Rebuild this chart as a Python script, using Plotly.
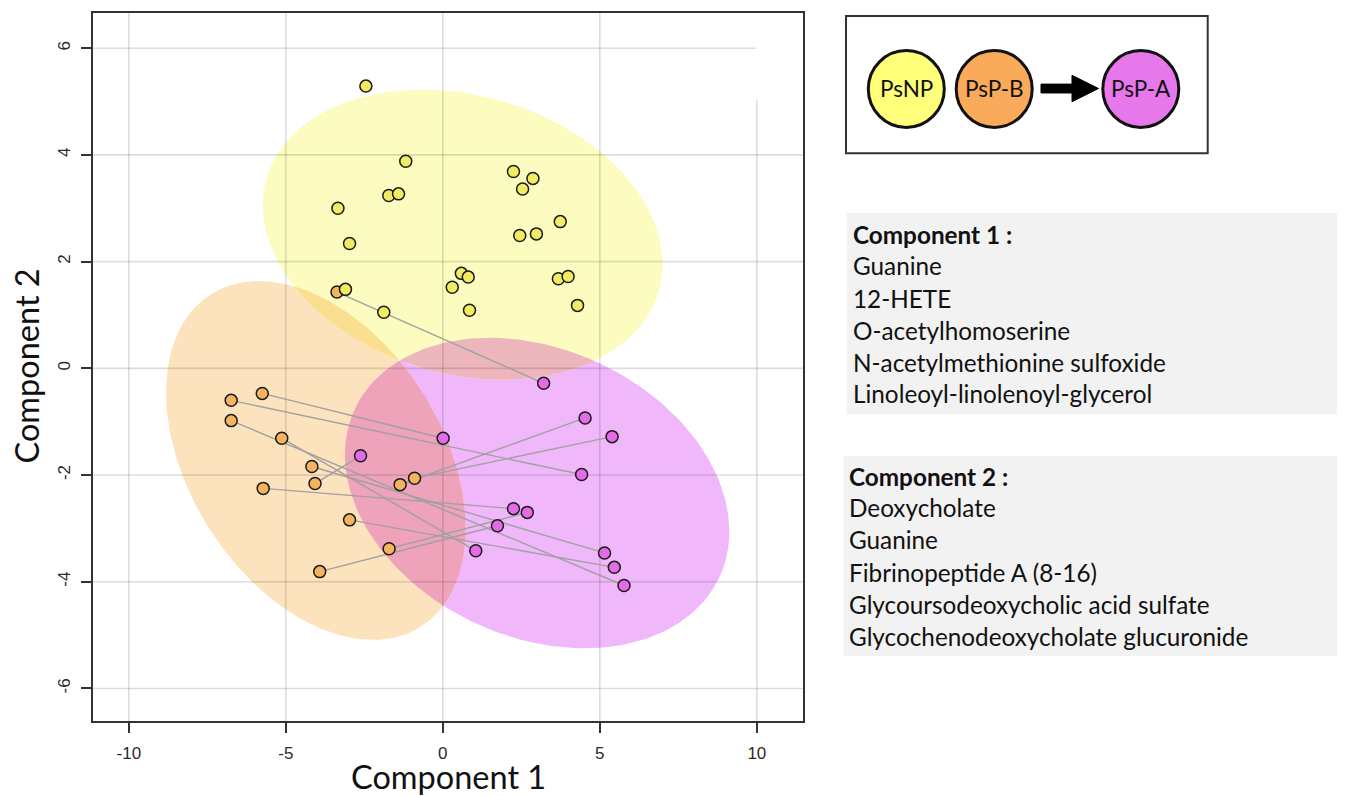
import numpy as np
import plotly.graph_objects as go

# ---------------- data ----------------
psnp_x = [-2.45, -1.18, -1.72, -1.41, -3.34, -2.97, -3.10, -1.88, 2.25, 2.87, 2.54,
          3.74, 2.45, 2.98, 0.59, 0.81, 0.30, 0.85, 3.68, 3.99, 4.29]
psnp_y = [5.29, 3.88, 3.24, 3.27, 3.00, 2.34, 1.48, 1.05, 3.69, 3.56, 3.36,
          2.75, 2.49, 2.52, 1.78, 1.71, 1.52, 1.09, 1.68, 1.72, 1.18]

# PsP-B samples (paired, same order as PsP-A)
pspb_x = [-5.75, -6.74, -6.74, -5.13, -4.17, -4.07, -5.72, -2.97, -1.71, -3.92, -1.36, -0.90, -3.37]
pspb_y = [-0.47, -0.60, -0.98, -1.31, -1.84, -2.16, -2.25, -2.84, -3.38, -3.81, -2.18, -2.06, 1.43]
# PsP-A samples
pspa_x = [0.01, 4.42, 5.77, 1.05, 5.15, -2.62, 2.25, 5.46, 2.69, 1.74, 4.53, 5.39, 3.21]
pspa_y = [-1.31, -1.99, -4.07, -3.42, -3.46, -1.64, -2.63, -3.73, -2.70, -2.95, -0.93, -1.28, -0.28]

x_tickvals = [-10, -5, 0, 5, 10]
x_ticktext = ["-10", "-5", "0", "5", "10"]
y_tickvals = [-6, -4, -2, 0, 2, 4, 6]
y_ticktext = ["-6", "-4", "-2", "0", "2", "4", "6"]

groups = ["PsNP", "PsP-B", "PsP-A"]
comp1_vars = ["Guanine", "12-HETE", "O-acetylhomoserine",
              "N-acetylmethionine sulfoxide", "Linoleoyl-linolenoyl-glycerol"]
comp2_vars = ["Deoxycholate", "Guanine", "Fibrinopeptide A (8-16)",
              "Glycoursodeoxycholic acid sulfate", "Glycochenodeoxycholate glucuronide"]

# ---------------- styles ----------------
pt_col = {"PsNP": "#F1EC62", "PsP-B": "#F4B35E", "PsP-A": "#E46BE6"}
# ellipse tints as seen over white; overlaps are shown multiplied
ell_rgb = {"PsNP": (252, 252, 193), "PsP-B": (253, 226, 190), "PsP-A": (240, 184, 250)}
leg_col = {"PsNP": "#FFFF7A", "PsP-B": "#F9AA5A", "PsP-A": "#E678EB"}
FONT = "Lato, 'Open Sans', sans-serif"
TICKFONT = "'Liberation Sans', Arial, sans-serif"
X_RANGE = [-11.14, 11.47]
Y_RANGE = [-6.61, 6.66]

CHI = 2.4477  # sqrt(qchisq(0.95, 2))


def conf_ellipse(x, y, n=240):
    x = np.asarray(x, float)
    y = np.asarray(y, float)
    cov = np.cov(x, y)
    vals, vecs = np.linalg.eigh(cov)
    t = np.linspace(0, 2 * np.pi, n, endpoint=False)
    circ = np.vstack([np.cos(t), np.sin(t)])
    pts = vecs @ (np.sqrt(vals)[:, None] * circ) * CHI
    poly = list(zip(x.mean() + pts[0], y.mean() + pts[1]))
    area = sum(p[0] * q[1] - q[0] * p[1] for p, q in zip(poly, poly[1:] + poly[:1]))
    if area < 0:
        poly = poly[::-1]
    return poly


def clip(subject, clipper):
    """Sutherland-Hodgman: intersection of polygon with convex CCW polygon."""
    out = list(subject)
    n = len(clipper)
    for i in range(n):
        if not out:
            break
        a = clipper[i]
        b = clipper[(i + 1) % n]

        def inside(p):
            return (b[0] - a[0]) * (p[1] - a[1]) - (b[1] - a[1]) * (p[0] - a[0]) >= 0

        def inter(p, q):
            x1, y1 = p
            x2, y2 = q
            x3, y3 = a
            x4, y4 = b
            den = (x1 - x2) * (y3 - y4) - (y1 - y2) * (x3 - x4)
            t = ((x1 - x3) * (y3 - y4) - (y1 - y3) * (x3 - x4)) / den
            return (x1 + t * (x2 - x1), y1 + t * (y2 - y1))

        inp = out
        out = []
        s = inp[-1]
        for e in inp:
            if inside(e):
                if not inside(s):
                    out.append(inter(s, e))
                out.append(e)
            elif inside(s):
                out.append(inter(s, e))
            s = e
    return out


def mult(*cols):
    r = np.array([255.0, 255.0, 255.0])
    for c in cols:
        r = r * np.array(c) / 255.0
    return "rgb(%d,%d,%d)" % tuple(int(round(v)) for v in r)


fig = go.Figure()

ell = {"PsNP": conf_ellipse(psnp_x, psnp_y),
       "PsP-B": conf_ellipse(pspb_x, pspb_y),
       "PsP-A": conf_ellipse(pspa_x, pspa_y)}


def add_poly(poly, color):
    if len(poly) < 3:
        return
    xs = [p[0] for p in poly] + [poly[0][0]]
    ys = [p[1] for p in poly] + [poly[0][1]]
    fig.add_trace(go.Scatter(x=xs, y=ys, mode="lines", fill="toself", fillcolor=color,
                             line=dict(width=0), hoverinfo="skip", showlegend=False))


for g in ["PsP-A", "PsP-B", "PsNP"]:
    add_poly(ell[g], mult(ell_rgb[g]))
for g1, g2 in [("PsNP", "PsP-B"), ("PsNP", "PsP-A"), ("PsP-B", "PsP-A")]:
    add_poly(clip(ell[g1], ell[g2]), mult(ell_rgb[g1], ell_rgb[g2]))
add_poly(clip(clip(ell["PsNP"], ell["PsP-B"]), ell["PsP-A"]),
         mult(ell_rgb["PsNP"], ell_rgb["PsP-B"], ell_rgb["PsP-A"]))

# grid lines (drawn over the tinted ellipses, slightly interrupted in the top-right corner)
CORNER_X, CORNER_Y = 9.97, 5.03
gx, gy = [], []
for v in x_tickvals:
    top = CORNER_Y if v >= CORNER_X else Y_RANGE[1]
    gx += [v, v, None]
    gy += [Y_RANGE[0], top, None]
for v in y_tickvals:
    right = CORNER_X if v >= CORNER_Y else X_RANGE[1]
    gx += [X_RANGE[0], right, None]
    gy += [v, v, None]
fig.add_trace(go.Scatter(x=gx, y=gy, mode="lines", line=dict(color="rgba(0,0,0,0.135)", width=1.6),
                         hoverinfo="skip", showlegend=False))

# paired lines PsP-B -> PsP-A
lx, ly = [], []
for xb, yb, xa, ya in zip(pspb_x, pspb_y, pspa_x, pspa_y):
    lx += [xb, xa, None]
    ly += [yb, ya, None]
fig.add_trace(go.Scatter(x=lx, y=ly, mode="lines",
                         line=dict(color="#A0A0A0", width=1.4),
                         hoverinfo="skip", showlegend=False))

for g, xs, ys in [("PsP-B", pspb_x, pspb_y), ("PsNP", psnp_x, psnp_y), ("PsP-A", pspa_x, pspa_y)]:
    fig.add_trace(go.Scatter(x=xs, y=ys, mode="markers", name=g,
                             marker=dict(size=12, color=pt_col[g],
                                         line=dict(color="#1A1A1A", width=1.5)),
                             showlegend=False))

# ---------------- layout ----------------
# coordinates below are screen pixels of the reference; the page adds an 8px body margin
OFF = 8
L, R, T, B = 93, 803, 11, 721
W, H = R - L, B - T


def px(x):
    return (x - L) / W


def py(y):
    return (B - y) / H


axis_common = dict(showgrid=False, zeroline=False,
                   showline=True, mirror=True, linecolor="#333333", linewidth=1.5,
                   ticks="outside", ticklen=10, tickwidth=1.5, tickcolor="#333333",
                   tickfont=dict(family=TICKFONT, size=17, color="#2A2A2A"))

fig.update_xaxes(range=X_RANGE, tickvals=x_tickvals, ticktext=x_ticktext,
                 ticklabelstandoff=6, **axis_common)
fig.update_yaxes(range=Y_RANGE, tickvals=y_tickvals, ticktext=y_ticktext,
                 tickangle=-90, ticklabelstandoff=4, **axis_common)

shapes = []
# legend box
shapes.append(dict(type="rect", xref="paper", yref="paper", x0=px(846), x1=px(1207.7),
                   y0=py(151.7), y1=py(14), line=dict(color="#333333", width=2),
                   fillcolor="white"))
circ_cx = {"PsNP": 906.3, "PsP-B": 994.2, "PsP-A": 1140.8}
cy = 87.2
for g in groups:
    c = circ_cx[g]
    shapes.append(dict(type="circle", xref="paper", yref="paper",
                       x0=px(c - 38), x1=px(c + 38), y0=py(cy + 38.5), y1=py(cy - 38.5),
                       line=dict(color="#111111", width=3), fillcolor=leg_col[g]))
arrow_pts = [(1041, 82.3), (1072, 82.3), (1072, 73.5), (1098.5, 86.7),
             (1072, 100), (1072, 91.2), (1041, 91.2)]
path = "M " + " L ".join(f"{px(a):.5f},{py(b):.5f}" for a, b in arrow_pts) + " Z"
shapes.append(dict(type="path", xref="paper", yref="paper", path=path,
                   fillcolor="black", line=dict(color="black", width=1)))

# grey text boxes
shapes.append(dict(type="rect", xref="paper", yref="paper", x0=px(846.7), x1=px(1338),
                   y0=py(413.3), y1=py(211.7), fillcolor="#F2F2F2", line=dict(width=0)))
shapes.append(dict(type="rect", xref="paper", yref="paper", x0=px(843.3), x1=px(1338),
                   y0=py(656), y1=py(455), fillcolor="#F2F2F2", line=dict(width=0)))

annotations = []
for g in groups:
    annotations.append(dict(text=g, x=px(circ_cx[g]), y=py(cy), xref="paper", yref="paper",
                            showarrow=False, xanchor="center", yanchor="middle",
                            font=dict(family=FONT, size=22.5, color="#111111")))

box1_y = [233, 264, 297, 329, 361, 393]
for txt, yy in zip(["<b>Component 1 :</b>"] + comp1_vars, box1_y):
    annotations.append(dict(text=txt, x=px(851), y=py(yy), xref="paper", yref="paper",
                            showarrow=False, xanchor="left", yanchor="middle",
                            font=dict(family=FONT, size=24.3, color="#111111")))
box2_y = [476, 507.3, 539, 572, 604.3, 636.7]
for txt, yy in zip(["<b>Component 2 :</b>"] + comp2_vars, box2_y):
    annotations.append(dict(text=txt, x=px(847.3), y=py(yy), xref="paper", yref="paper",
                            showarrow=False, xanchor="left", yanchor="middle",
                            font=dict(family=FONT, size=24.3, color="#111111")))

annotations.append(dict(text="Component 1", x=px(448.7), y=py(777), xref="paper", yref="paper",
                        showarrow=False, xanchor="center", yanchor="middle",
                        font=dict(family=FONT, size=32.5, color="#111111")))
annotations.append(dict(text="Component 2", x=px(27), y=py(365.5), xref="paper", yref="paper",
                        showarrow=False, xanchor="center", yanchor="middle", textangle=-90,
                        font=dict(family=FONT, size=32.5, color="#111111")))

fig.update_layout(width=1345 - OFF, height=796 - OFF,
                  margin=dict(l=L - OFF, r=1345 - R, t=T - OFF, b=796 - B),
                  paper_bgcolor="white", plot_bgcolor="white", showlegend=False,
                  shapes=shapes, annotations=annotations)

fig.write_html("out.html")
